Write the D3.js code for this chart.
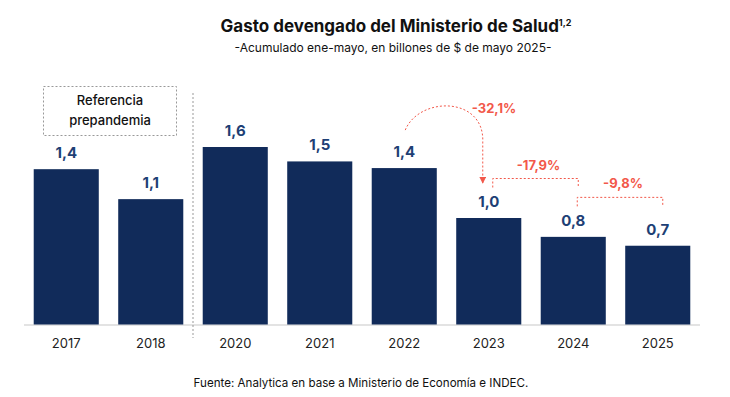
<!DOCTYPE html>
<html>
<head>
<meta charset="utf-8">
<script src="https://cdn.jsdelivr.net/npm/d3@7"></script>
<style>
  body { margin: 0; background: #fff; }
  svg { display: block; font-family: Inter, "Noto Sans", sans-serif; }
</style>
</head>
<body>
<script>
// chart data
var years = ["2017", "2018", "2020", "2021", "2022", "2023", "2024", "2025"];
var gasto = [1.40, 1.13, 1.60, 1.47, 1.41, 0.96, 0.79, 0.71];
// percentage changes: [from, to, label]
var cambios = [
    ["2022", "2023", "-32,1%"],
    ["2023", "2024", "-17,9%"],
    ["2024", "2025", "-9,8%"]
];

var w = 730, h = 397;
var barColor = "#112b5a", labelColor = "#1e3f75", red = "#f2584a";

var svg = d3.select("body").append("svg")
    .attr("width", w)
    .attr("height", h);

var x = d3.scaleBand()
    .domain(years)
    .range([24, 700])
    .paddingInner(0.23)
    .paddingOuter(0.115);

var y = d3.scaleLinear()
    .domain([0, 1.6])
    .range([324.5, 147]);

var fmt = function(v){ return d3.format(".1f")(v).replace(".", ","); };

// title
svg.append("text")
    .attr("x", 396).attr("y", 32)
    .attr("text-anchor", "middle")
    .style("font-size", "17px")
    .style("font-weight", "700")
    .style("fill", "#111")
    .text("Gasto devengado del Ministerio de Salud")
    .append("tspan")
    .attr("dy", -6)
    .style("font-size", "9px")
    .text("1,2");

svg.append("text")
    .attr("x", 393).attr("y", 52)
    .attr("text-anchor", "middle")
    .style("font-size", "12px")
    .style("fill", "#111")
    .text("-Acumulado ene-mayo, en billones de $ de mayo 2025-");

// baseline
svg.append("line")
    .attr("x1", 24).attr("x2", 700)
    .attr("y1", y(0) + 0.5).attr("y2", y(0) + 0.5)
    .style("stroke", "#e3e3e3")
    .style("stroke-width", 2);

// bars
svg.selectAll(".bar")
    .data(gasto)
    .enter()
    .append("rect")
    .attr("class", "bar")
    .attr("x", function(d, i){ return x(years[i]); })
    .attr("y", function(d){ return y(d); })
    .attr("width", x.bandwidth())
    .attr("height", function(d){ return y(0) - y(d); })
    .style("fill", barColor);

// value labels
svg.selectAll(".val")
    .data(gasto)
    .enter()
    .append("text")
    .attr("class", "val")
    .attr("text-anchor", "middle")
    .attr("x", function(d, i){ return x(years[i]) + x.bandwidth() / 2; })
    .attr("y", function(d){ return y(d) - 11; })
    .style("font-size", "15px")
    .style("font-weight", "700")
    .style("fill", labelColor)
    .text(fmt);

// x axis labels
var xAxis = d3.axisBottom(x).tickSize(0).tickPadding(14);
var axis = svg.append("g")
    .attr("transform", "translate(0," + y(0) + ")")
    .call(xAxis);
axis.select(".domain").remove();
axis.selectAll("text")
    .style("font-family", "Inter, 'Noto Sans', sans-serif")
    .style("font-size", "13px")
    .style("fill", "#222");

// divider between 2018 and 2020
var divX = (x("2018") + x.bandwidth() + x("2020")) / 2;
svg.append("line")
    .attr("x1", divX).attr("x2", divX)
    .attr("y1", 93).attr("y2", 338)
    .style("stroke", "#999")
    .style("stroke-width", 1)
    .style("stroke-dasharray", "2,2");

// pre-pandemic box
svg.append("rect")
    .attr("x", 43.5).attr("y", 86.5)
    .attr("width", 133).attr("height", 49)
    .style("fill", "none")
    .style("stroke", "#999")
    .style("stroke-dasharray", "2,2");

svg.append("text")
    .attr("x", 110).attr("y", 105)
    .attr("text-anchor", "middle")
    .style("font-size", "13px")
    .style("font-weight", "500")
    .style("fill", "#111")
    .selectAll("tspan")
    .data(["Referencia", "prepandemia"])
    .enter()
    .append("tspan")
    .attr("x", 110)
    .attr("dy", function(d, i){ return i ? 20 : 0; })
    .text(function(d){ return d; });

// arrowhead
svg.append("defs").append("marker")
    .attr("id", "arrow")
    .attr("viewBox", "0 0 10 10")
    .attr("refX", 9).attr("refY", 5)
    .attr("markerWidth", 7).attr("markerHeight", 7)
    .attr("markerUnits", "userSpaceOnUse")
    .attr("orient", "auto")
    .append("path")
    .attr("d", "M0,0L10,5L0,10Z")
    .style("fill", red);

var cx = function(yr){ return x(yr) + x.bandwidth() / 2; };
var val = function(yr){ return gasto[years.indexOf(yr)]; };

// curved arrow for the first change
var c0 = cambios[0];
var sx = cx(c0[0]) + 1, sy = y(val(c0[0])) - 38;
var ex = cx(c0[1]) - 6, ey = y(val(c0[1])) - 35;
svg.append("path")
    .attr("d", "M" + sx + "," + sy +
        "C" + (sx + 14) + "," + (sy - 34) + " " + (ex + 2) + "," + (sy - 34) + " " + ex + "," + (sy + 12) +
        "L" + ex + "," + ey)
    .style("fill", "none")
    .style("stroke", red)
    .style("stroke-width", 1)
    .style("stroke-dasharray", "2,2")
    .attr("marker-end", "url(#arrow)");

svg.append("text")
    .attr("x", ex - 11).attr("y", sy - 17)
    .style("font-size", "13px")
    .style("font-weight", "700")
    .style("fill", red)
    .text(c0[2]);

// brackets for the following changes
cambios.slice(1).forEach(function(c){
    var x1 = cx(c[0]) + 4, x2 = cx(c[1]) + 5;
    var top = y(val(c[0])) - 39.5;
    svg.append("path")
        .attr("d", "M" + x1 + "," + (top + 9) + "V" + top + "H" + x2 + "V" + (top + 9))
        .style("fill", "none")
        .style("stroke", red)
        .style("stroke-width", 1)
        .style("stroke-dasharray", "2,2");
    svg.append("text")
        .attr("x", (x1 + x2) / 2 + 3).attr("y", top - 9)
        .attr("text-anchor", "middle")
        .style("font-size", "13px")
        .style("font-weight", "700")
        .style("fill", red)
        .text(c[2]);
});

// source
svg.append("text")
    .attr("x", 361).attr("y", 387)
    .attr("text-anchor", "middle")
    .style("font-size", "11.6px")
    .style("fill", "#111")
    .text("Fuente: Analytica en base a Ministerio de Economía e INDEC.");
</script>
</body>
</html>
